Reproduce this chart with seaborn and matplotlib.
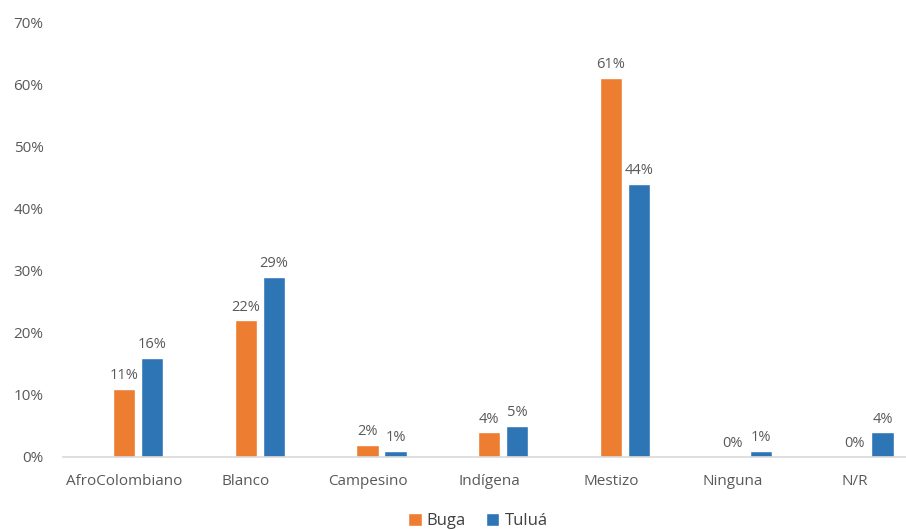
import matplotlib
matplotlib.use("Agg")
import matplotlib.pyplot as plt
import seaborn as sns
import pandas as pd

categories = ["AfroColombiano", "Blanco", "Campesino", "Indígena", "Mestizo", "Ninguna", "N/R"]
buga = [0.11, 0.22, 0.02, 0.04, 0.61, 0.00, 0.00]
tulua = [0.16, 0.29, 0.01, 0.05, 0.44, 0.01, 0.04]
series_names = ["Buga", "Tuluá"]
y_ticks = [0.0, 0.1, 0.2, 0.3, 0.4, 0.5, 0.6, 0.7]

df = pd.DataFrame({
    "categoria": categories * 2,
    "valor": buga + tulua,
    "ciudad": [series_names[0]] * len(categories) + [series_names[1]] * len(categories),
})

sns.set_theme(style="white")
plt.rcParams["font.family"] = ["Open Sans", "DejaVu Sans"]

fig = plt.figure(figsize=(9.06, 5.30), dpi=100)
W, H = 906, 530
ax = fig.add_axes([63 / W, (H - 457) / H, (W - 63) / W, (457 - 22) / H])

palette = {"Buga": "#ED7D31", "Tuluá": "#2E75B6"}
sns.barplot(data=df, x="categoria", y="valor", hue="ciudad", order=categories,
            hue_order=series_names, palette=palette, width=0.46, gap=0.2,
            saturation=1, ax=ax, legend=True)

for container in ax.containers:
    ax.bar_label(container, labels=[f"{v * 100:.0f}%" for v in container.datavalues],
                 padding=4, fontsize=10.5, color="#595959")

ax.set_ylim(0, 0.70)
ax.set_xlim(-0.616, 6.308)
ax.set_yticks(y_ticks)
ax.set_yticklabels([f"{t * 100:.0f}%" for t in y_ticks])
# category labels sit slightly left of each bar pair
ax.set_xticks([i - 0.115 for i in range(len(categories))])
ax.set_xticklabels(categories)
ax.set_xlabel("")
ax.set_ylabel("")
ax.tick_params(axis="y", length=0, pad=14, labelsize=11, labelcolor="#595959")
ax.tick_params(axis="x", length=0, pad=12, labelsize=11, labelcolor="#595959")

for side in ["top", "right", "left"]:
    ax.spines[side].set_visible(False)
ax.spines["bottom"].set_color("#D9D9D9")
ax.spines["bottom"].set_linewidth(1.2)
ax.grid(False)

handles, labels = ax.get_legend_handles_labels()
ax.get_legend().remove()
fig.legend(handles, labels, loc="center", bbox_to_anchor=(478 / W, 1 - 521 / H),
           ncol=2, frameon=False, fontsize=12, handlelength=0.8, handleheight=0.8,
           handletextpad=0.3, columnspacing=1.2, labelcolor="#404040")

fig.savefig("out.png", dpi=100)
